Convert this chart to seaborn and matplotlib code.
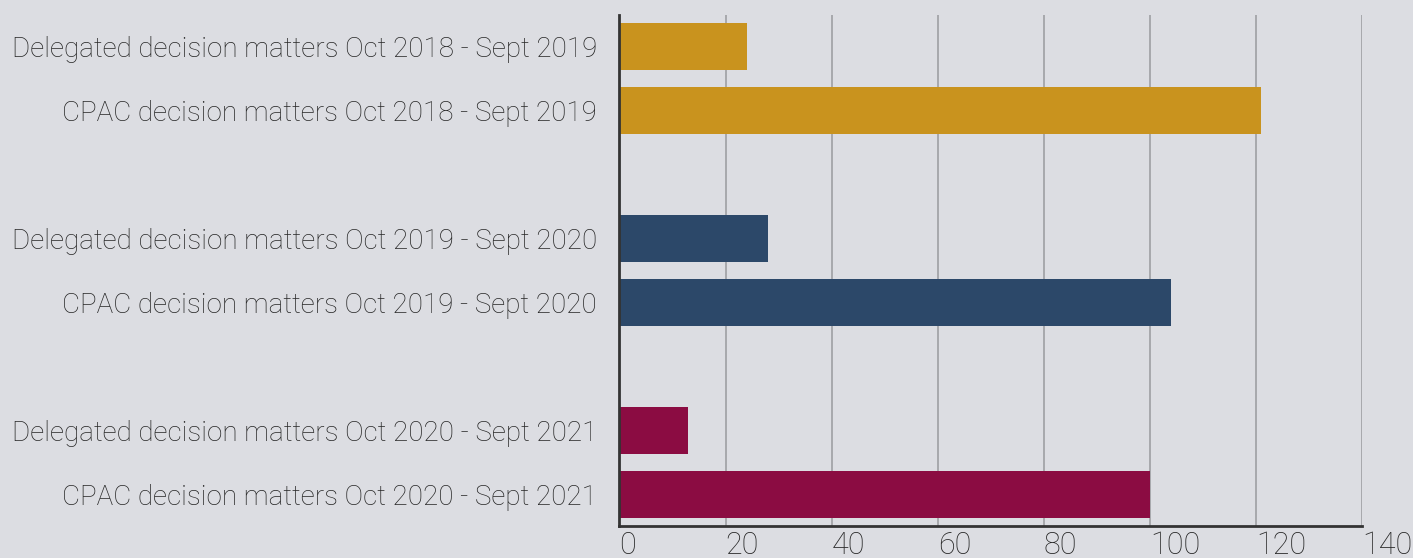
import matplotlib
matplotlib.use("Agg")
import matplotlib.pyplot as plt
import seaborn as sns
import pandas as pd

# data
periods = ["Oct 2018 - Sept 2019", "Oct 2019 - Sept 2020", "Oct 2020 - Sept 2021"]
delegated = [24, 28, 13]
cpac = [121, 104, 100]
colors = ["#C9931E", "#2C4869", "#8B0C42"]
xticks = [0, 20, 40, 60, 80, 100, 120, 140]

rows = []
order = []
for i, p in enumerate(periods):
    d_lab = "Delegated decision matters " + p
    c_lab = "CPAC decision matters " + p
    rows.append({"label": d_lab, "value": delegated[i], "period": p})
    rows.append({"label": c_lab, "value": cpac[i], "period": p})
    order += [d_lab, c_lab]
    if i < len(periods) - 1:
        order.append(" " * (i + 1))  # spacer between groups
df = pd.DataFrame(rows)

sns.set_theme(style="white")
plt.rcParams["font.family"] = ["Roboto", "DejaVu Sans"]
bg = "#DCDDE2"

fig = plt.figure(figsize=(14.13, 5.58), dpi=100, facecolor=bg)
ax = fig.add_axes([0.4384, 0.0565, 0.9639 - 0.4384, 0.974 - 0.0565])
ax.set_facecolor(bg)

sns.barplot(data=df, x="value", y="label", hue="period", order=order,
            palette=colors, orient="h", width=0.73, dodge=False,
            legend=False, saturation=1, linewidth=0, ax=ax)

ax.set_xlim(0, 140)
ax.set_ylim(len(order) - 0.5, -0.5)
ax.set_xticks(xticks)
ax.xaxis.grid(True, color="#A3A4A8", linewidth=1.3)
ax.set_axisbelow(True)
ax.set_xlabel("")
ax.set_ylabel("")

for s in ["top", "right"]:
    ax.spines[s].set_visible(False)
for s in ["left", "bottom"]:
    ax.spines[s].set_color("#333333")
    ax.spines[s].set_linewidth(2)

ax.tick_params(axis="y", length=0, pad=16, labelsize=20, labelcolor="#262626")
ax.tick_params(axis="x", length=0, pad=3, labelsize=22, labelcolor="#262626")
for t in ax.get_yticklabels():
    t.set_fontweight("light")
for t in ax.get_xticklabels():
    t.set_fontweight("light")
    t.set_horizontalalignment("left")

fig.savefig("out.png", dpi=100, facecolor=bg)
